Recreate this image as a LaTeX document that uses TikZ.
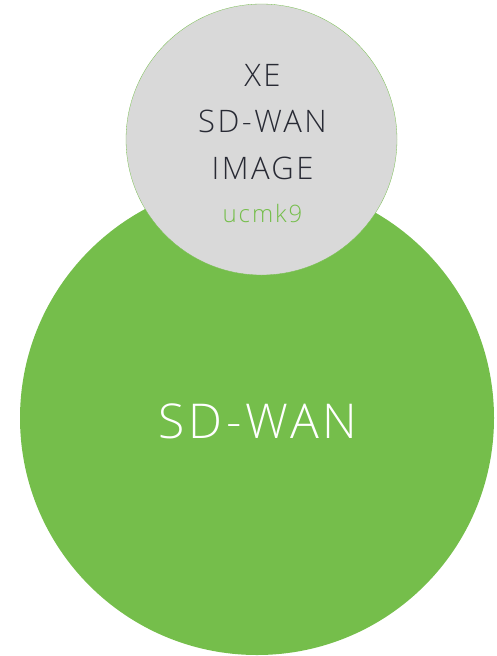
\documentclass[tikz,border=0pt]{standalone}
\usepackage{fontspec}
\setmainfont{Open Sans}[UprightFont=* Light,LetterSpace=8]
\usepackage{tikz}
\usetikzlibrary{positioning,calc}

\definecolor{sdgreen}{RGB}{117,190,75}
\definecolor{imggrey}{RGB}{217,217,217}
\definecolor{inkdark}{RGB}{40,42,52}

\tikzset{
  bubble/.style={circle,inner sep=0pt},
  imgtext/.style={anchor=base,text=inkdark,font=\fontsize{31}{31}\selectfont}
}

\begin{document}
\begin{tikzpicture}[x=1pt,y=-1pt]
                    \useasboundingbox (0,0) rectangle (496,656);

                    \node[bubble,fill=sdgreen,minimum size=474pt] (wan) at (257,418) {};
                    \node[bubble,fill=imggrey,draw=sdgreen,line width=0.3pt,minimum size=271pt] (image) at (261.5,139.5) {};

                    \node[anchor=base,text=white,font=\fontsize{48}{48}\selectfont] (wanlabel) at (258,438) {SD-WAN};

                    \node[imgtext] (xe) at (262.5,86) {XE};
                    \node[imgtext] (sdwan) at (262.5,132) {SD-WAN};
                    \node[imgtext] (imagelabel) at (262.5,179) {IMAGE};
                    \node[anchor=base,text=sdgreen,font=\fontsize{24}{24}\selectfont] (code) at (262.5,222) {ucmk9};
                \end{tikzpicture}
\end{document}
